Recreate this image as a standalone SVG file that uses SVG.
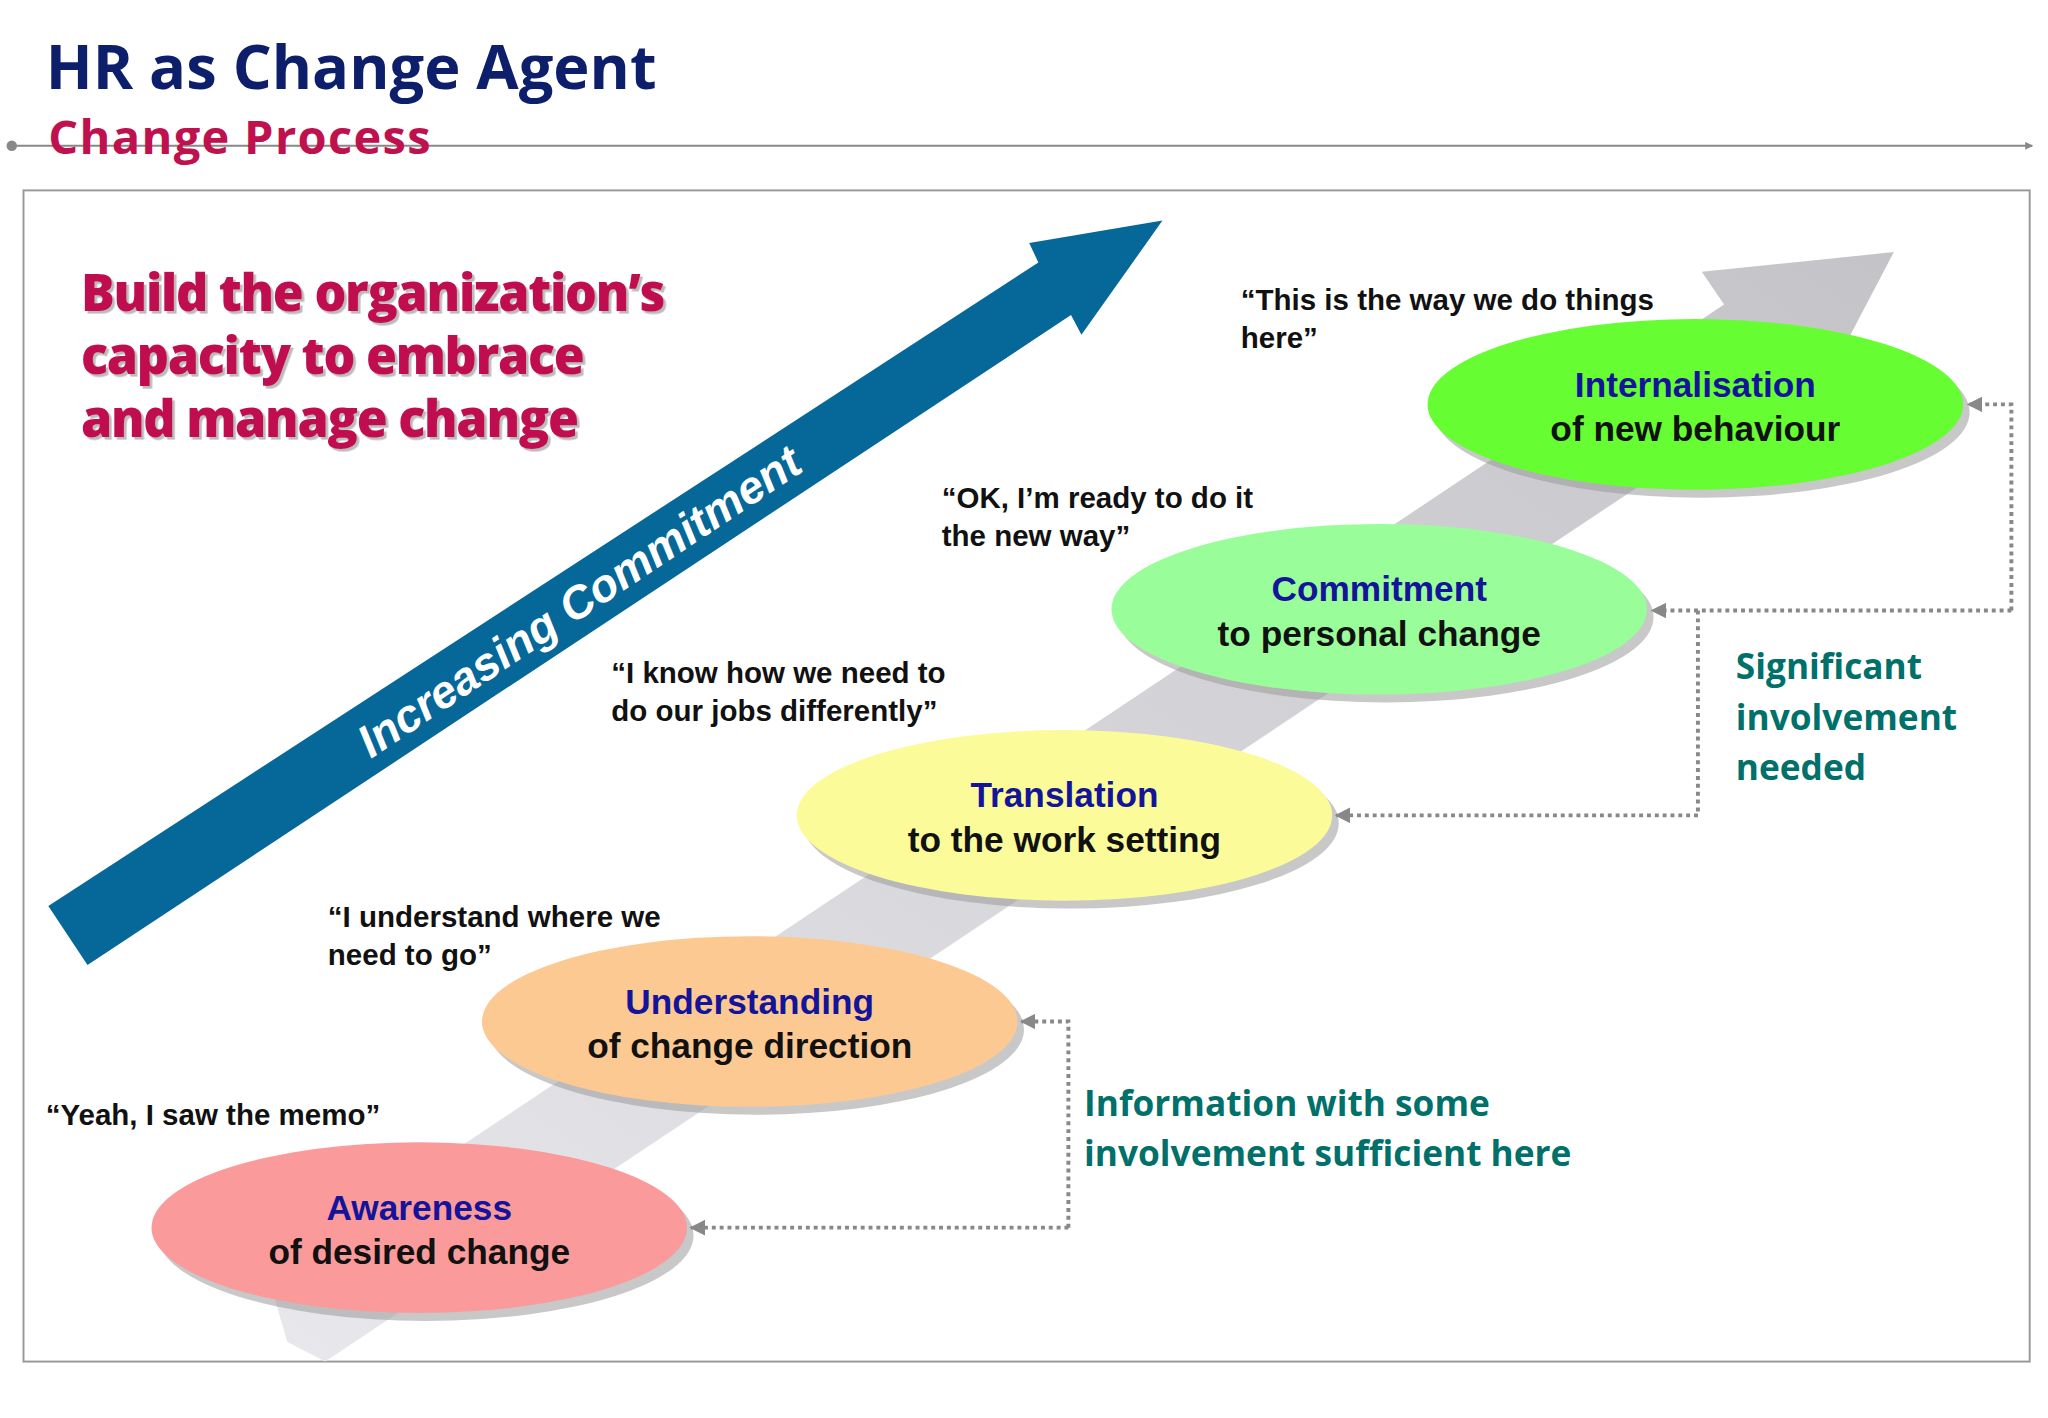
<svg xmlns="http://www.w3.org/2000/svg" width="2048" height="1418" viewBox="0 0 2048 1418">
<defs>
<style>
.q{font-family:"Liberation Sans",Arial,sans-serif;font-weight:bold;font-size:22.6px;fill:#111}
.t1{font-family:"Liberation Sans",Arial,sans-serif;font-weight:bold;font-size:27px;fill:#14149a;text-anchor:middle}
.t2{font-family:"Liberation Sans",Arial,sans-serif;font-weight:bold;font-size:27px;fill:#111;text-anchor:middle}
.tl{font-family:"Open Sans","Liberation Sans",sans-serif;font-weight:bold;font-size:27px;fill:#00706a}
.red{font-family:"Open Sans","Liberation Sans",sans-serif;font-weight:800;font-size:38.5px;fill:#c0114f;letter-spacing:-1px}
.dot{fill:none;stroke:#888;stroke-width:3;stroke-dasharray:3 3}
.sh{fill:#9a9a9a;opacity:0.55}
</style>
<filter id="ds" x="-5%" y="-20%" width="110%" height="140%"><feDropShadow dx="2" dy="2" stdDeviation="0.5" flood-color="#777" flood-opacity="0.5"/></filter>
<linearGradient id="g" x1="0" y1="1" x2="1" y2="0"><stop offset="0" stop-color="#e8e8ec"/><stop offset="1" stop-color="#c4c4c8"/></linearGradient>
<marker id="ah" viewBox="0 0 10 10" refX="9" refY="5" markerWidth="4" markerHeight="4" orient="auto"><path d="M0,0L10,5L0,10z" fill="#888"/></marker>
</defs>
<rect width="2048" height="1418" fill="#fff"/>
<g transform="scale(1.3061,1.313)">
<g id="header">
<text x="35" y="68" font-family="'Open Sans','Liberation Sans',sans-serif" font-weight="bold" font-size="47" fill="#0d1f6b" letter-spacing="0">HR as Change Agent</text>
<line x1="9" y1="111" x2="1556" y2="111" stroke="#888" stroke-width="1.5" marker-end="url(#ah)"/>
<circle cx="9" cy="111" r="4" fill="#888"/>
<text x="37" y="117" font-family="'Open Sans','Liberation Sans',sans-serif" font-weight="bold" font-size="36" fill="#c0114f" letter-spacing="1">Change Process</text>
</g>
<rect x="18" y="145" width="1536" height="892" fill="#fff" stroke="#999" stroke-width="1.5"/>
<polygon id="bgarrow" points="205,971 1320,232 1303,207 1450,192 1381,323 1364,298 249,1037 220,1022" fill="url(#g)"/>
<g id="blue-arrow">
<polygon points="37,690 795,200 788,185 890,168 828,255 820,240 67,735" fill="#066799"/>
<text transform="translate(450,468) rotate(-33.5)" text-anchor="middle" font-family="'Liberation Sans',Arial,sans-serif" font-weight="bold" font-style="italic" font-size="35" fill="#fff">Increasing Commitment</text>
</g>
<g id="headline" filter="url(#ds)">
<text class="red" x="62" y="237">Build the organization’s</text>
<text class="red" x="62" y="285">capacity to embrace</text>
<text class="red" x="62" y="333">and manage change</text>
</g>
<g id="awareness">
<ellipse class="sh" cx="326" cy="941" rx="205" ry="65"/>
<ellipse cx="321" cy="935" rx="205" ry="65" fill="#fb9a9a"/>
<text class="t1" x="321" y="929">Awareness</text><text class="t2" x="321" y="963">of desired change</text>
<text class="q" x="35" y="857">“Yeah, I saw the memo”</text>
</g>
<g id="understanding">
<ellipse class="sh" cx="579" cy="784" rx="205" ry="65"/>
<ellipse cx="574" cy="778" rx="205" ry="65" fill="#fdc993"/>
<text class="t1" x="574" y="772">Understanding</text><text class="t2" x="574" y="806">of change direction</text>
<text class="q" x="251" y="706">“I understand where we</text><text class="q" x="251" y="735">need to go”</text>
</g>
<g id="translation">
<ellipse class="sh" cx="820" cy="627" rx="205" ry="65"/>
<ellipse cx="815" cy="621" rx="205" ry="65" fill="#fbfb99"/>
<text class="t1" x="815" y="615">Translation</text><text class="t2" x="815" y="649">to the work setting</text>
<text class="q" x="468" y="520">“I know how we need to</text><text class="q" x="468" y="549">do our jobs differently”</text>
</g>
<g id="commitment">
<ellipse class="sh" cx="1061" cy="470" rx="205" ry="65"/>
<ellipse cx="1056" cy="464" rx="205" ry="65" fill="#99fd99"/>
<text class="t1" x="1056" y="458">Commitment</text><text class="t2" x="1056" y="492">to personal change</text>
<text class="q" x="721" y="387">“OK, I’m ready to do it</text><text class="q" x="721" y="416">the new way”</text>
</g>
<g id="internalisation">
<ellipse class="sh" cx="1303" cy="314" rx="205" ry="65"/>
<ellipse cx="1298" cy="308" rx="205" ry="65" fill="#66fd33"/>
<text class="t1" x="1298" y="302">Internalisation</text><text class="t2" x="1298" y="336">of new behaviour</text>
<text class="q" x="950" y="236">“This is the way we do things</text><text class="q" x="950" y="265">here”</text>
</g>
<g id="connectors">
<path class="dot" d="M1540,465 V308 H1507" marker-end="url(#ah)"/>
<path class="dot" d="M1540,465 H1265" marker-end="url(#ah)"/>
<path class="dot" d="M1300,465 V621 H1023" marker-end="url(#ah)"/>
<path class="dot" d="M818,935 V778 H782" marker-end="url(#ah)"/>
<path class="dot" d="M818,935 H529" marker-end="url(#ah)"/>
</g>
<g id="notes">
<text class="tl" x="1329" y="517">Significant</text><text class="tl" x="1329" y="556">involvement</text><text class="tl" x="1329" y="594">needed</text>
<text class="tl" x="830" y="850">Information with some</text><text class="tl" x="830" y="888">involvement sufficient here</text>
</g>
</g>
</svg>
